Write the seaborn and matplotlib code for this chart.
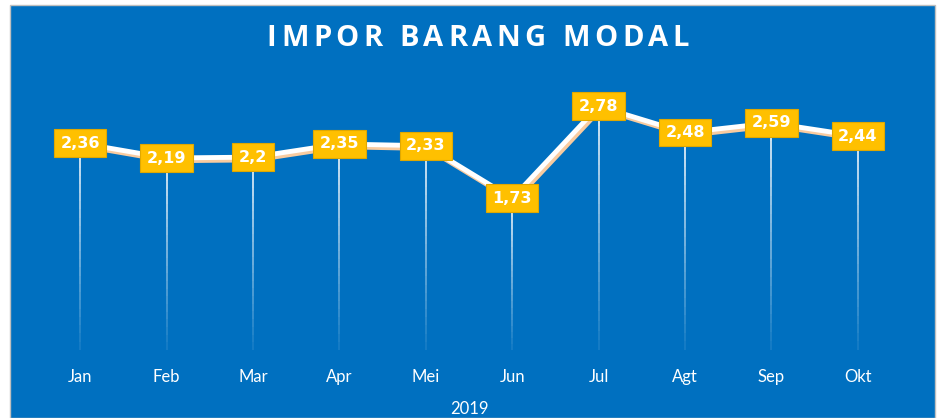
import seaborn as sns
import matplotlib.pyplot as plt
import matplotlib.patheffects as pe
from matplotlib.patches import Rectangle
import pandas as pd

# data
months = ["Jan", "Feb", "Mar", "Apr", "Mei", "Jun", "Jul", "Agt", "Sep", "Okt"]
values = [2.36, 2.19, 2.2, 2.35, 2.33, 1.73, 2.78, 2.48, 2.59, 2.44]
labels = ["2,36", "2,19", "2,2", "2,35", "2,33", "1,73", "2,78", "2,48", "2,59", "2,44"]
title = "IMPOR BARANG MODAL"

blue = "#0070C0"
df = pd.DataFrame({"month": months, "value": values})
df["pos"] = range(len(months))

sns.set_style("white")
fig = plt.figure(figsize=(9.47, 4.18), dpi=100)
fig.patch.set_facecolor("white")
# blue panel background
fig.patches.append(Rectangle((10/947, 0), 925/947, 413/418, transform=fig.transFigure,
                             facecolor=blue, edgecolor="#BFBFBF", lw=1, zorder=0))

ax = fig.add_axes([37/947, 1-350/418, 864/947, 263/418])
ax.set_facecolor("none")
ax.set_zorder(5)

# drop lines fading to the bottom
n = 25
for x, v in zip(df["pos"], df["value"]):
    for i in range(n):
        y0 = v * i / n
        y1 = v * (i + 1) / n
        ax.plot([x, x], [y0, y1], color="white", lw=1.4, alpha=0.05 + 0.8 * (i + 1) / n,
                solid_capstyle="butt", zorder=1)

sns.lineplot(data=df, x="pos", y="value", ax=ax, color="white", lw=3.5, zorder=2,
             path_effects=[pe.SimpleLineShadow(offset=(1.5, -2), shadow_color="#F8CBA0", alpha=1),
                           pe.Normal()])

for x, v, t in zip(df["pos"], df["value"], labels):
    ax.text(x, v, t, ha="center", va="center", color="white", fontsize=11.5,
            fontweight="bold", family="DejaVu Sans", zorder=3,
            bbox=dict(boxstyle="square,pad=0.4", facecolor="#FFC000", edgecolor="#E0A800", lw=0.8))

ax.set_xlim(-0.5, 9.5)
ax.set_ylim(0, 3)
ax.set_xticks(range(len(months)))
ax.set_xticklabels(months, family="Lato", fontsize=12, color="white")
ax.tick_params(axis="x", length=0, pad=14)
ax.set_yticks([])
ax.set_xlabel("2019", family="Lato", fontsize=12, color="white", labelpad=11)
ax.set_ylabel("")
for s in ax.spines.values():
    s.set_visible(False)

# letter-spaced title
renderer = fig.canvas.get_renderer()
spacing = 4.5
chars = []
widths = []
for c in title:
    t = fig.text(0, 1-38/418, c, ha="left", va="center", color="white",
                 fontsize=21, fontweight="bold", family="Open Sans")
    chars.append(t)
    widths.append(t.get_window_extent(renderer).width)
total = sum(widths) + spacing * (len(title) - 1)
xpix = 478 - total / 2
for t, w in zip(chars, widths):
    t.set_x(xpix / 947)
    xpix += w + spacing

fig.savefig("out.png", dpi=100, facecolor="white")
